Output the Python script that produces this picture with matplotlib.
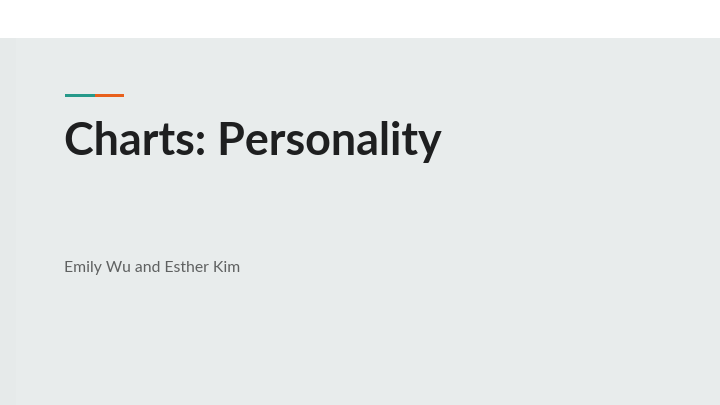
import matplotlib
matplotlib.use("Agg")
from matplotlib import pyplot as plt
from matplotlib.patches import Rectangle

# slide text
title = "Charts: Personality"
subtitle = "Emily Wu and Esther Kim"

# accent bar: segment colours and their widths (in slide pixels)
accent_colors = ["#26998a", "#e8601c"]
accent_widths = [30, 29]

fig = plt.figure(figsize=(7.2, 4.05), dpi=100)
fig.patch.set_facecolor("#e8ecec")

# one axes over the whole figure, measured in pixels (y goes down)
ax = fig.add_axes([0, 0, 1, 1])
ax.set_xlim(0, 720)
ax.set_ylim(405, 0)
ax.axis("off")

# white band on top, slightly darker strip on the left
ax.add_patch(Rectangle((-5, -5), 730, 43, color="white", lw=0))
ax.add_patch(Rectangle((-5, 38), 21, 372, color="#e6eaea", lw=0))

# the little two-colour line above the title
x = 65
for c, w in zip(accent_colors, accent_widths):
    ax.add_patch(Rectangle((x, 93.5), w, 3.5, color=c, lw=0))
    x += w

ax.text(64, 155, title, fontsize=32.3, fontweight="bold", family="Lato",
        color="#1e1f20", va="baseline", ha="left")
ax.text(64, 272, subtitle, fontsize=11.3, family="Lato",
        color="#5f6161", va="baseline", ha="left")

fig.savefig("out.png", dpi=100, facecolor=fig.get_facecolor())
